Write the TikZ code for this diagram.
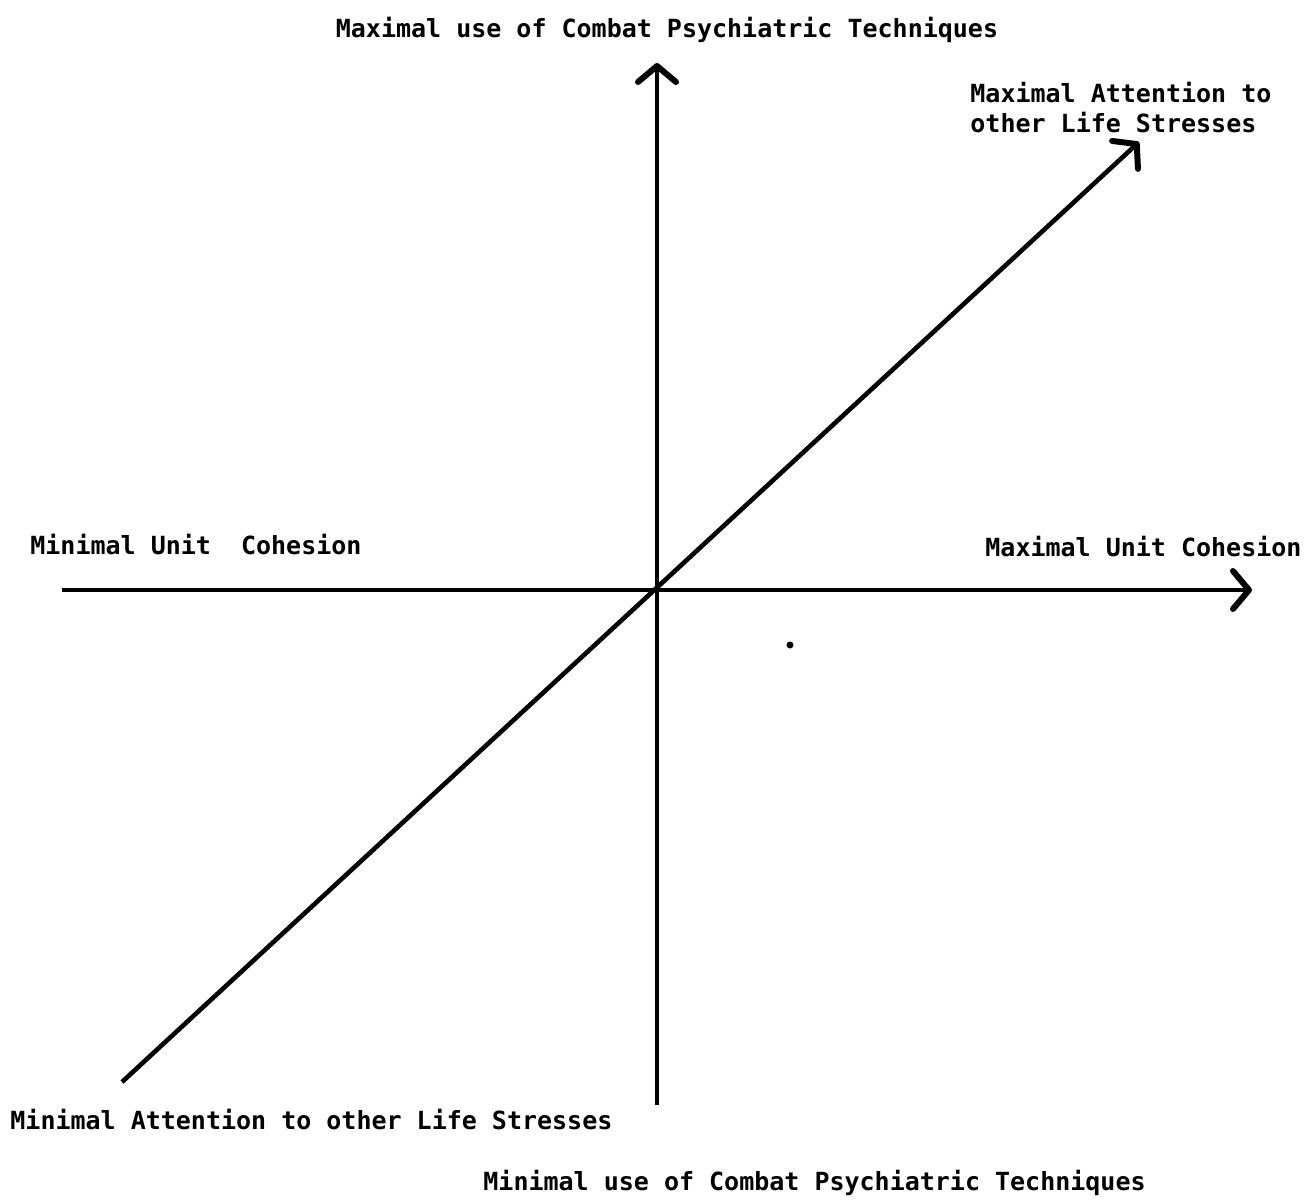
\documentclass[tikz,border=0pt]{standalone}
\usepackage{fontspec}
\setmonofont{DejaVu Sans Mono}
\usetikzlibrary{arrows.meta,positioning}

\begin{document}
\begin{tikzpicture}[x=0.5pt,y=-0.5pt,
  axis/.style={line width=2.3pt,-{Straight Barb[length=8pt,width=19pt,line width=3pt,round]}},
  lbl/.style={font=\ttfamily\bfseries\fontsize{12.5}{15}\selectfont,inner sep=0pt}]
  \useasboundingbox (0,0) rectangle (1308,1200);
  % axis end points (pixel grid of the page)
  \coordinate (o) at (657,590);
  \coordinate (top) at (657,63);
  \coordinate (bot) at (657,1105);
  \coordinate (left) at (62,590);
  \coordinate (right) at (1252,590);
  \coordinate (low) at (122,1082);
  \coordinate (high) at (1139,142);
  % axes
  \draw[axis] (bot) -- (top);
  \draw[axis] (left) -- (right);
  \draw[axis] (low) -- (high);
  % stray mark
  \fill (790,645) circle (3.5);
  % labels
  \node[lbl] (ltop) at (667,30) {Maximal use of Combat Psychiatric Techniques};
  \node[lbl,anchor=west,align=left] (lhigh) at (970,108) {Maximal Attention to\\other Life Stresses};
  \node[lbl,anchor=west] (lleft) at (30,545) {Minimal Unit\ \ Cohesion};
  \node[lbl,anchor=west] (lright) at (985,547) {Maximal Unit Cohesion};
  \node[lbl,anchor=west] (llow) at (10,1120) {Minimal Attention to other Life Stresses};
  \node[lbl,anchor=west] (lbot) at (483,1183) {Minimal use of Combat Psychiatric Techniques};
\end{tikzpicture}
\end{document}
